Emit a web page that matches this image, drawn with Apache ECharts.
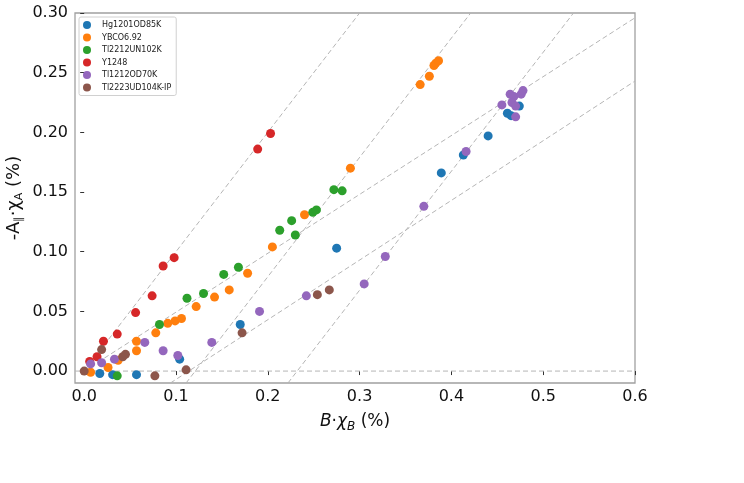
<!DOCTYPE html>
<html>
<head>
<meta charset="utf-8">
<script src="https://cdn.jsdelivr.net/npm/echarts@6/dist/echarts.min.js"></script>
<style>
  html, body { margin: 0; padding: 0; background: #fff; }
  #chart { width: 744px; height: 483px; }
</style>
</head>
<body>
<div id="chart"></div>
<script>
// series names as in the legend
const seriesNames = ['Hg1201OD85K', 'YBCO6.92', 'Tl2212UN102K', 'Y1248', 'Tl1212OD70K', 'Tl2223UD104K-IP']
const seriesColors = ['#1f77b4', '#ff7f0e', '#2ca02c', '#d62728', '#9467bd', '#8c564b']

// [B·χB, -A∥·χA] pairs
const hg1201 = [[0.017, -0.002], [0.031, -0.003], [0.057, -0.003], [0.104, 0.010], [0.170, 0.039],
  [0.275, 0.103], [0.389, 0.166], [0.413, 0.181], [0.440, 0.197], [0.461, 0.216], [0.465, 0.214], [0.474, 0.222]]
const ybco = [[0.007, -0.001], [0.026, 0.003], [0.037, 0.009], [0.057, 0.025], [0.057, 0.017], [0.078, 0.032],
  [0.091, 0.040], [0.099, 0.042], [0.106, 0.044], [0.122, 0.054], [0.142, 0.062], [0.158, 0.068], [0.178, 0.082],
  [0.205, 0.104], [0.240, 0.131], [0.290, 0.170], [0.366, 0.240], [0.376, 0.247], [0.381, 0.256], [0.383, 0.258], [0.386, 0.260]]
const tl2212 = [[0.036, -0.004], [0.082, 0.039], [0.112, 0.061], [0.130, 0.065], [0.152, 0.081], [0.168, 0.087],
  [0.213, 0.118], [0.226, 0.126], [0.230, 0.114], [0.249, 0.133], [0.253, 0.135], [0.272, 0.152], [0.281, 0.151]]
const y1248 = [[0.006, 0.008], [0.014, 0.012], [0.021, 0.025], [0.036, 0.031], [0.056, 0.049], [0.074, 0.063],
  [0.086, 0.088], [0.098, 0.095], [0.189, 0.186], [0.203, 0.199]]
const tl1212 = [[0.007, 0.006], [0.019, 0.007], [0.033, 0.010], [0.066, 0.024], [0.086, 0.017], [0.102, 0.013],
  [0.139, 0.024], [0.191, 0.050], [0.242, 0.063], [0.305, 0.073], [0.328, 0.096], [0.370, 0.138], [0.416, 0.184],
  [0.455, 0.223], [0.464, 0.232], [0.468, 0.230], [0.476, 0.232], [0.478, 0.235], [0.466, 0.225], [0.470, 0.222], [0.470, 0.213]]
const tl2223 = [[0.000, 0.000], [0.019, 0.018], [0.042, 0.012], [0.045, 0.014], [0.077, -0.004], [0.111, 0.001],
  [0.172, 0.032], [0.254, 0.064], [0.267, 0.068]]

// dashed guide lines: [x0, y0, x1, y1]
const guideLines = [
  [-0.01, 0, 0.6, 0],
  [0, 0, 0.30, 0.30],
  [0.111, -0.01, 0.421, 0.30],
  [0.222, -0.01, 0.533, 0.30],
  [0, 0, 0.6, 0.296],
  [0.094, -0.01, 0.6, 0.243]
]

const xTicks = [0, 0.1, 0.2, 0.3, 0.4, 0.5, 0.6]
const yTicks = [0, 0.05, 0.10, 0.15, 0.20, 0.25, 0.30]

const chart = echarts.init(document.getElementById('chart'))
const font = 'DejaVu Sans'
const pointSets = [hg1201, ybco, tl2212, y1248, tl1212, tl2223]

const series = []
guideLines.forEach(function (g) {
  series.push({
    type: 'line',
    data: [[g[0], g[1]], [g[2], g[3]]],
    symbol: 'none',
    silent: true,
    z: 1,
    lineStyle: { color: '#b5b5b5', width: 1, type: [5, 3] }
  })
})
pointSets.forEach(function (pts, i) {
  series.push({
    name: seriesNames[i],
    type: 'scatter',
    data: pts,
    symbolSize: 9,
    z: 2,
    itemStyle: { color: seriesColors[i], opacity: 1 }
  })
})

const option = {
  animation: false,
  textStyle: { fontFamily: font },
  grid: {
    left: 75, right: 109, top: 13, bottom: 100,
    outerBoundsMode: 'none',
    containLabel: false,
    show: true, borderColor: '#a0a0a0', borderWidth: 1.3
  },
  legend: {
    data: seriesNames,
    orient: 'vertical',
    left: 79, top: 17,
    icon: 'circle',
    itemWidth: 14, itemHeight: 8, itemGap: 4.5,
    padding: [4, 5, 4, 4],
    borderColor: '#d0d0d0', borderWidth: 1, borderRadius: 2,
    textStyle: { fontSize: 8, color: '#222', fontFamily: font, padding: [0, 0, 0, 3] }
  },
  xAxis: {
    type: 'value',
    min: -0.01, max: 0.6,
    splitLine: { show: false },
    axisLine: { show: false },
    axisTick: { show: true, customValues: xTicks, length: 4, lineStyle: { color: '#333' } },
    axisLabel: {
      customValues: xTicks, margin: 6, fontSize: 16, color: '#111',
      formatter: function (v) { return v.toFixed(1) }
    },
    name: '{i|B}·{i|χ}{sub|B} (%)',
    nameLocation: 'middle',
    nameGap: 28,
    nameMoveOverlap: false,
    nameTextStyle: {
      fontSize: 17, color: '#111',
      rich: {
        i: { fontSize: 17, fontStyle: 'italic', color: '#111' },
        sub: { fontSize: 12, fontStyle: 'italic', color: '#111', verticalAlign: 'bottom', padding: [10, 0, 0, 0] }
      }
    }
  },
  yAxis: {
    type: 'value',
    min: -0.01, max: 0.30,
    splitLine: { show: false },
    axisLine: { show: false },
    axisTick: { show: true, customValues: yTicks, length: 4, lineStyle: { color: '#333' } },
    axisLabel: {
      customValues: yTicks, margin: 7, fontSize: 16, color: '#111',
      formatter: function (v) { return v.toFixed(2) }
    },
    name: '-A{sub|∥}·χ{sub|A} (%)',
    nameLocation: 'middle',
    nameGap: 50,
    nameMoveOverlap: false,
    nameRotate: 90,
    nameTextStyle: {
      fontSize: 18, color: '#111',
      rich: {
        sub: { fontSize: 11, color: '#111', verticalAlign: 'bottom', padding: [10, 0, 0, 0] }
      }
    }
  },
  series: series
}
chart.setOption(option)
</script>
</body>
</html>
